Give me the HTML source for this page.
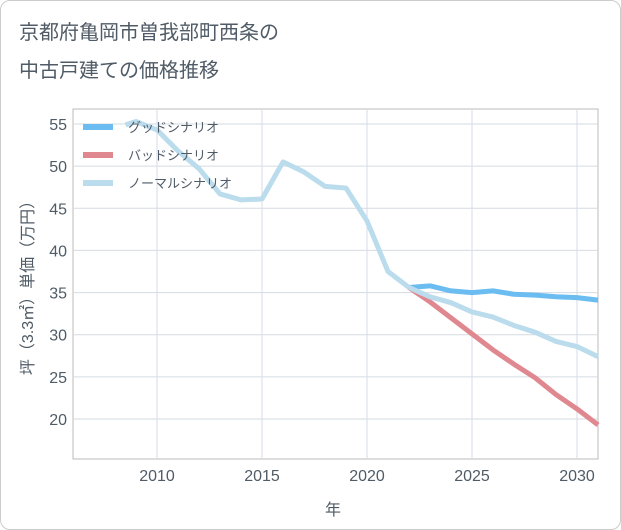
<!DOCTYPE html>
<html><head><meta charset="utf-8"><style>
body{margin:0;background:#fff;font-family:"Liberation Sans","Noto Sans CJK JP",sans-serif;}
#wrap{position:relative;width:619px;height:528px;border:1px solid #ccc;border-radius:10px;overflow:hidden;}
</style></head><body>
<div id="wrap">
<svg id="chart" width="619" height="528"></svg>
</div>
<script>
const yearsHist=[2008.5,2009,2010,2011,2012,2013,2014,2015,2016,2017,2018,2019,2020,2021,2022];
const normalHist=[54.9,55.3,54.3,51.8,49.7,46.7,46.0,46.1,50.5,49.3,47.6,47.4,43.5,37.5,35.6];
const yearsFut=[2022,2023,2024,2025,2026,2027,2028,2029,2030,2031];
const goodVals=[35.6,35.8,35.2,35.0,35.2,34.8,34.7,34.5,34.4,34.1];
const badVals=[35.6,33.9,32.0,30.1,28.2,26.5,24.9,22.9,21.2,19.3];
const normalVals=[35.6,34.5,33.8,32.7,32.1,31.1,30.3,29.2,28.6,27.4];
const xTicks=[2010,2015,2020,2025,2030];
const yTicks=[20,25,30,35,40,45,50,55];
const legendLabels=["グッドシナリオ","バッドシナリオ","ノーマルシナリオ"];
const colors=["#6bbcf0","#e08890","#badcec"];
const NS="http://www.w3.org/2000/svg";
const svg=document.getElementById('chart');
const TXT='#4f5b66';
const L=72,R=597,T=108,B=458;
const x=v=>L+(v-2006)*(R-L)/25;
const y=v=>123+(55-v)*(418-123)/35;
function mk(t,a,p){const e=document.createElementNS(NS,t);for(const k in a)e.setAttribute(k,a[k]);(p||svg).appendChild(e);return e;}
let t=mk('text',{x:18,y:38,fill:TXT,'font-size':20});t.textContent='京都府亀岡市曽我部町西条の';

t=mk('text',{x:18,y:76,fill:TXT,'font-size':20});t.textContent='中古戸建ての価格推移';

mk('rect',{x:L,y:T,width:R-L,height:B-T,fill:'none',stroke:'#bbb'});
yTicks.forEach(v=>{const l=mk('line',{x1:L,x2:R,y1:y(v),y2:y(v),stroke:'#d5dbe2'});

const s=mk('text',{x:L-6,y:y(v)+6,fill:TXT,'font-size':16,'text-anchor':'end'});s.textContent=v;
});
xTicks.forEach(v=>{const l=mk('line',{x1:x(v),x2:x(v),y1:T,y2:B,stroke:'#d5dee8'});

const s=mk('text',{x:x(v),y:B+22,fill:TXT,'font-size':16,'text-anchor':'middle'});s.textContent=v;
});
t=mk('text',{x:332,y:514,fill:TXT,'font-size':16,'text-anchor':'middle'});t.textContent='年';

t=mk('text',{x:0,y:0,fill:TXT,'font-size':16,'text-anchor':'middle',transform:'translate(32,283) rotate(-90)'});t.textContent='坪（3.3㎡）単価（万円）';

function line(xs,vs,c,name){const p=mk('polyline',{points:xs.map((a,i)=>x(a)+','+y(vs[i])).join(' '),fill:'none',stroke:c,'stroke-width':5,'stroke-linejoin':'round'});
}
line(yearsFut,goodVals,colors[0],'good-scenario-line');
line(yearsFut,badVals,colors[1],'bad-scenario-line');
line(yearsHist,normalHist,colors[2],'normal-history-line');
line(yearsFut,normalVals,colors[2],'normal-scenario-line');
legendLabels.forEach((s,i)=>{const g=mk('g',{});
mk('line',{x1:82,x2:112,y1:126+i*28,y2:126+i*28,stroke:colors[i],'stroke-width':6},g);
const tx=mk('text',{x:127,y:131+i*28,fill:TXT,'font-size':13},g);tx.textContent=s;});
</script>
</body></html>
